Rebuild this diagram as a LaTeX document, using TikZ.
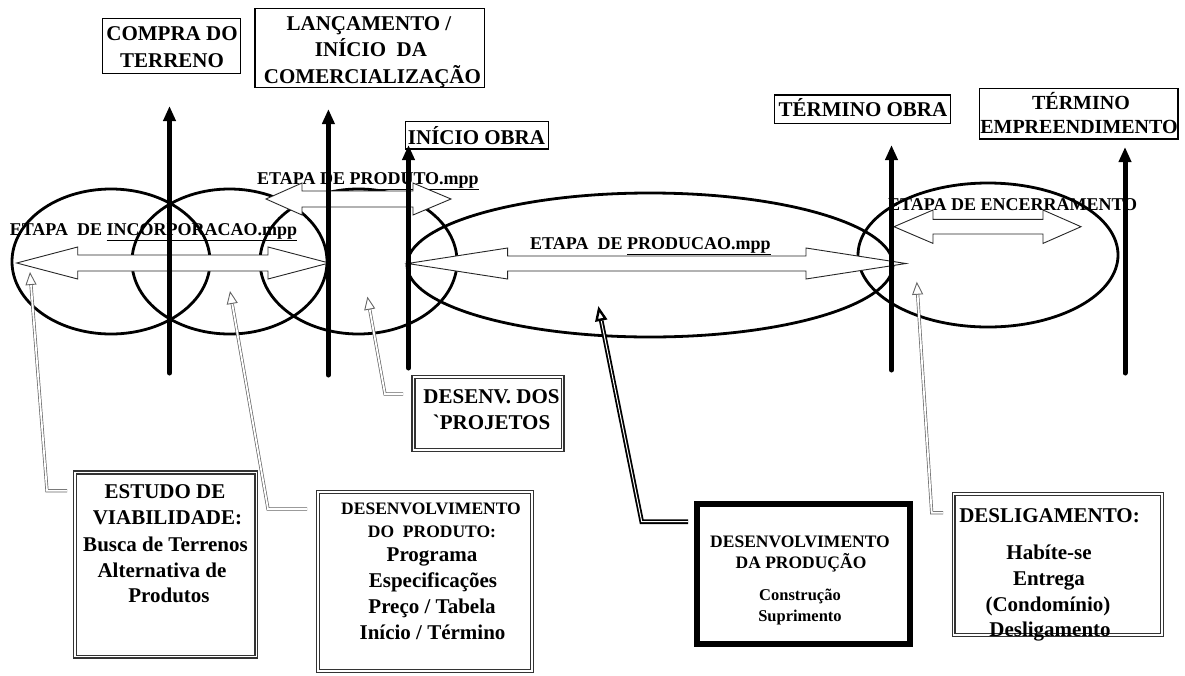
\documentclass[tikz,border=0pt]{standalone}
\usepackage{fontspec}
\setmainfont{Liberation Serif}
\usetikzlibrary{arrows.meta,shapes.geometric,calc}
\newcommand\hdarr[7]{%
  \path[harrow] (#1,#3) -- (#1+#4,#3-#7) -- (#1+#4,#3-#6) -- (#2-#5,#3-#6) -- (#2-#5,#3-#7) -- (#2,#3)
    -- (#2-#5,#3+#7) -- (#2-#5,#3+#6) -- (#1+#4,#3+#6) -- (#1+#4,#3+#7) -- cycle;}
\newcommand\innerrect[1]{%
  \draw[dinner] ($(#1.north west)+(3.5,3.5)$) rectangle ($(#1.south east)+(-3.5,-3.5)$);}
\begin{document}
\begin{tikzpicture}[x=1pt,y=-1pt,
  bar/.style={line width=5pt, line cap=round, -{Triangle[width=12pt,length=15pt]}},
  ell/.style={draw, ellipse, line width=2.8pt, inner sep=0pt},
  harrow/.style={draw=black!85, line width=0.9pt, fill=white, line join=miter},
  lab/.style={font=\bfseries\fontsize{18}{22}\selectfont, anchor=base west, inner sep=0pt},
  txt/.style={font=\bfseries\fontsize{21}{25}\selectfont, anchor=base, inner sep=0pt},
  mtxt/.style={font=\bfseries\fontsize{20}{24}\selectfont, anchor=base, inner sep=0pt},
  stxt/.style={font=\bfseries\fontsize{17.5}{21}\selectfont, anchor=base, inner sep=0pt},
  sstxt/.style={font=\bfseries\fontsize{16.5}{20}\selectfont, anchor=base, inner sep=0pt},
  box/.style={draw, line width=1.2pt, inner sep=0pt},
  dbox/.style={draw=black!80, line width=1.1pt, inner sep=0pt},
  dinner/.style={draw=black!80, line width=1.1pt},
  tbox/.style={draw, line width=6pt, inner sep=0pt},
  conn/.style={draw=black!60, line width=0.7pt, double=white, double distance=1.8pt},
  chead/.style={draw=black!60, line width=0.9pt, -{Triangle[open,width=11pt,length=13pt]}},
  bconn/.style={draw=black, line width=1.8pt, double=white, double distance=1pt},
  bhead/.style={draw=black, line width=2.4pt, -{Triangle[open,width=12pt,length=15pt]}},
]
\useasboundingbox (0,0) rectangle (1185,675);

% ellipses
\node[ell, minimum width=198pt, minimum height=145pt] (e1) at (111,261.5) {};
\node[ell, minimum width=195pt, minimum height=145pt] (e2) at (229.5,261.5) {};
\node[ell, minimum width=197pt, minimum height=145pt] (e3) at (358.5,261.5) {};
\node[ell, minimum width=486pt, minimum height=144pt] (e4) at (650,265) {};
\node[ell, minimum width=260pt, minimum height=144pt] (e5) at (988,255) {};

% stage labels
\node[lab] (linc) at (9.6,235) {ETAPA\ \ DE \underline{INCORPORACAO.mpp}};
\node[lab] (lprod) at (257,184) {ETAPA DE \underline{PRODUTO.mpp}};
\node[lab] (lpc) at (530,249) {ETAPA\ \ DE \underline{PRODUCAO.mpp}};
\node[lab] (lenc) at (888,210) {ETAPA DE ENCERRAMENTO};

% hollow double arrows
\hdarr{16.7}{329}{263}{61}{61}{8}{16}
\hdarr{266}{451}{199}{36}{38}{8}{16}
\hdarr{407.6}{906}{263.5}{100}{100}{7.5}{15.5}
\hdarr{894}{1081}{226.7}{39}{38}{7.3}{16.7}

% milestone bars
\coordinate (a1b) at (169.5,373); \coordinate (a1t) at (169.5,106);
\coordinate (a2b) at (328.4,375); \coordinate (a2t) at (328.4,109);
\coordinate (a3b) at (408.5,368); \coordinate (a3t) at (408.5,145);
\coordinate (a4b) at (891.5,370); \coordinate (a4t) at (891.5,145);
\coordinate (a5b) at (1125,373); \coordinate (a5t) at (1125,147);
\draw[bar] (a1b) -- (a1t);
\draw[bar] (a2b) -- (a2t);
\draw[bar] (a3b) -- (a3t);
\draw[bar] (a4b) -- (a4t);
\draw[bar] (a5b) -- (a5t);

% top boxes
\node[box, minimum width=138pt, minimum height=55pt] (bcompra) at (171.8,45.7) {};
\node[txt] (t1a) at (172,40.7) {COMPRA DO};
\node[txt] (t1b) at (172,67) {TERRENO};
\node[box, minimum width=229.5pt, minimum height=79pt] (blanc) at (369.8,47.8) {};
\node[txt] (t2a) at (369,30.7) {LANÇAMENTO /};
\node[txt] (t2b) at (371,56.7) {INÍCIO\ \ DA};
\node[txt] (t2c) at (372.5,83) {COMERCIALIZAÇÃO};
\node[box, minimum width=142.7pt, minimum height=27.7pt] (binicio) at (477,135.2) {};
\node[txt] (t3) at (476.5,144) {INÍCIO OBRA};
\node[box, minimum width=175.6pt, minimum height=28.3pt] (btobra) at (862.6,109.2) {};
\node[txt] (t4) at (863,116) {TÉRMINO OBRA};
\node[box, minimum width=198.7pt, minimum height=50.7pt] (btemp) at (1078.7,113.7) {};
\node[mtxt] (t5a) at (1081,109) {TÉRMINO};
\node[mtxt] (t5b) at (1079,133) {EMPREENDIMENTO};

% bottom boxes
\node[dbox, minimum width=152pt, minimum height=76pt] (bdesenv) at (488,413.5) {};
\innerrect{bdesenv}
\node[txt] (t6a) at (491.5,403) {DESENV. DOS};
\node[txt] (t6b) at (491.5,429.5) {\textasciigrave PROJETOS};

\node[dbox, minimum width=184pt, minimum height=187pt] (bestudo) at (165.9,564.5) {};
\innerrect{bestudo}
\node[txt] (t7a) at (165,498) {ESTUDO DE};
\node[txt] (t7b) at (167.5,524) {VIABILIDADE:};
\node[txt] (t7c) at (165.5,551) {Busca de Terrenos};
\node[txt] (t7d) at (162,577) {Alternativa de};
\node[txt] (t7e) at (169,602) {Produtos};

\node[dbox, minimum width=217pt, minimum height=182pt] (bdprod) at (424.8,581.7) {};
\innerrect{bdprod}
\node[stxt] (t8a) at (431,514) {DESENVOLVIMENTO};
\node[stxt] (t8b) at (432,537) {DO\ \ PRODUTO:};
\node[txt] (t8c) at (432,561) {Programa};
\node[txt] (t8d) at (433,587) {Especificações};
\node[txt] (t8e) at (432,613) {Preço / Tabela};
\node[txt] (t8f) at (432.5,639) {Início / Término};

\node[tbox, minimum width=213.4pt, minimum height=140.6pt] (bdprodc) at (803.7,574) {};
\node[stxt] (t9a) at (800,547) {DESENVOLVIMENTO};
\node[stxt] (t9b) at (801,568) {DA PRODUÇÃO};
\node[sstxt] (t9c) at (800,600) {Construção};
\node[sstxt] (t9d) at (800,621) {Suprimento};

\node[dbox, minimum width=211.5pt, minimum height=144pt] (bdeslig) at (1057.8,564.2) {};
\innerrect{bdeslig}
\node[txt] (t10a) at (1049.5,522) {DESLIGAMENTO:};
\node[txt] (t10b) at (1049,559) {Habíte-se};
\node[txt] (t10c) at (1049,585) {Entrega};
\node[txt] (t10d) at (1048,611) {(Condomínio)};
\node[txt] (t10e) at (1050,636) {Desligamento};

% connectors
\coordinate (c1a) at (67,490.7); \coordinate (c1b) at (47,490.7); \coordinate (c1t) at (30,272);
\draw[conn] (c1a) -- (c1b) -- ($(c1t)!13pt!(c1b)$);
\draw[chead] ($(c1t)!13pt!(c1b)$) -- (c1t);

\coordinate (c2a) at (307,509); \coordinate (c2b) at (268,509); \coordinate (c2t) at (230,291);
\draw[conn] (c2a) -- (c2b) -- ($(c2t)!13pt!(c2b)$);
\draw[chead] ($(c2t)!13pt!(c2b)$) -- (c2t);

\coordinate (c3a) at (403,394); \coordinate (c3b) at (385,394); \coordinate (c3t) at (367.4,296.7);
\draw[conn] (c3a) -- (c3b) -- ($(c3t)!13pt!(c3b)$);
\draw[chead] ($(c3t)!13pt!(c3b)$) -- (c3t);

\coordinate (c4a) at (688,521.7); \coordinate (c4b) at (641.7,521.7); \coordinate (c4t) at (598.3,306);
\draw[bconn] (c4a) -- (c4b) -- ($(c4t)!15pt!(c4b)$);
\draw[bhead] ($(c4t)!15pt!(c4b)$) -- (c4t);

\coordinate (c5a) at (943,512.7); \coordinate (c5b) at (931.7,512.7); \coordinate (c5t) at (916.8,281.7);
\draw[conn] (c5a) -- (c5b) -- ($(c5t)!13pt!(c5b)$);
\draw[chead] ($(c5t)!13pt!(c5b)$) -- (c5t);
\end{tikzpicture}
\end{document}
